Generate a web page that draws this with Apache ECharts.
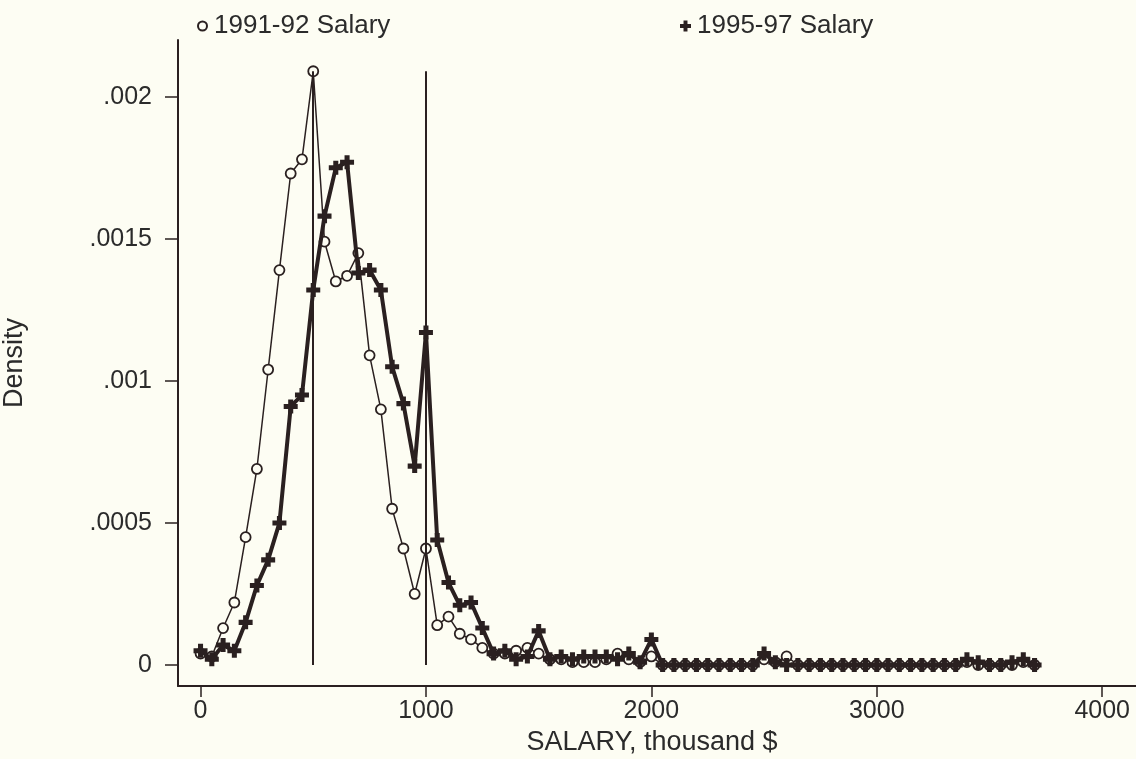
<!DOCTYPE html>
<html>
<head>
<meta charset="utf-8">
<script src="https://cdn.jsdelivr.net/npm/echarts@6/dist/echarts.min.js"></script>
<style>
html,body{margin:0;padding:0;background:#fdfdf3;}
#chart{width:1136px;height:759px;}
</style>
</head>
<body>
<div id="chart"></div>
<script>
// ---- data ----
const salaryBins = [0,50,100,150,200,250,300,350,400,450,500,550,600,650,700,750,800,850,900,950,
  1000,1050,1100,1150,1200,1250,1300,1350,1400,1450,1500,1550,1600,1650,1700,1750,1800,1850,1900,1950,
  2000,2050,2100,2150,2200,2250,2300,2350,2400,2450,2500,2550,2600,2650,2700,2750,2800,2850,2900,2950,
  3000,3050,3100,3150,3200,3250,3300,3350,3400,3450,3500,3550,3600,3650,3700];

const density9192 = [0.00004,0.00003,0.00013,0.00022,0.00045,0.00069,0.00104,0.00139,0.00173,0.00178,
  0.00209,0.00149,0.00135,0.00137,0.00145,0.00109,0.00090,0.00055,0.00041,0.00025,
  0.00041,0.00014,0.00017,0.00011,0.00009,0.00006,0.00004,0.00004,0.00005,0.00006,
  0.00004,0.00002,0.00002,0.00001,0.00001,0.00001,0.00002,0.00004,0.00002,0.00001,
  0.00003,0,0,0,0,0,0,0,0,0,
  0.00002,0.00001,0.00003,0,0,0,0,0,0,0,
  0,0,0,0,0,0,0,0,0.00001,0,
  0,0,0,0.00001,0];

const density9597 = [0.00005,0.00002,0.00007,0.00005,0.00015,0.00028,0.00037,0.00050,0.00091,0.00095,
  0.00132,0.00158,0.00175,0.00177,0.00138,0.00139,0.00132,0.00105,0.00092,0.00070,
  0.00117,0.00044,0.00029,0.00021,0.00022,0.00013,0.00004,0.00005,0.00002,0.00003,
  0.00012,0.00002,0.00003,0.00002,0.00003,0.00003,0.00003,0.00002,0.00004,0.00001,
  0.00009,0,0,0,0,0,0,0,0,0,
  0.00004,0.00001,0,0,0,0,0,0,0,0,
  0,0,0,0,0,0,0,0,0.00002,0.00001,
  0,0,0.00001,0.00002,0];

const seriesNames = ['1991-92 Salary', '1995-97 Salary'];
const xTickValues = [0, 1000, 2000, 3000, 4000];
const xTickLabels = ['0', '1000', '2000', '3000', '4000'];
const yTickValues = [0, 0.0005, 0.001, 0.0015, 0.002];
const yTickLabels = ['0', '.0005', '.001', '.0015', '.002'];
const refLinesX = [500, 1000];
const refLineTop = 0.00209;

// ---- build ----
const ink = '#2a2020';
const textCol = '#2b2b2b';
const bg = '#fdfdf3';
const font = 'Liberation Sans';
const plusPath = 'path://M3.2,0H6.8V3.2H10V6.8H6.8V10H3.2V6.8H0V3.2H3.2Z';

const pairs = (ys) => salaryBins.map((x, i) => [x, ys[i]]);
const lookup = (vals, labels) => (v) => {
  const i = vals.findIndex(t => Math.abs(t - v) < 1e-9);
  return i >= 0 ? labels[i] : '';
};

const chart = echarts.init(document.getElementById('chart'), null, {renderer: 'canvas'});
chart.setOption({
  backgroundColor: bg,
  animation: false,
  textStyle: {fontFamily: font, color: textCol},
  legend: [
    {
      left: 192, top: 8, itemWidth: 9, itemHeight: 9, 
      data: [{name: seriesNames[0], icon: 'circle'}],
      textStyle: {fontFamily: font, fontSize: 26, color: textCol, padding: [0, 0, 0, 2]}
    },
    {
      left: 675, top: 8, itemWidth: 11, itemHeight: 11,
      data: [{name: seriesNames[1], icon: plusPath}],
      textStyle: {fontFamily: font, fontSize: 26, color: textCol, padding: [0, 0, 0, 1]}
    }
  ],
  grid: {left: 178, right: 0, top: 40, bottom: 73, containLabel: false, outerBoundsMode: 'none'},
  xAxis: {
    type: 'value', min: -100, max: 4150,
    name: 'SALARY, thousand $', nameLocation: 'middle', nameGap: 27,
    nameTextStyle: {fontFamily: font, fontSize: 27, color: textCol, padding: [0, 10, 0, 0]},
    axisLine: {show: true, onZero: false, lineStyle: {color: ink, width: 2}},
    axisTick: {show: true, length: 11, customValues: xTickValues, lineStyle: {color: ink, width: 1.5}},
    axisLabel: {customValues: xTickValues, margin: 13, fontFamily: font, fontSize: 25, color: textCol,
      formatter: lookup(xTickValues, xTickLabels)},
    splitLine: {show: false}
  },
  yAxis: {
    type: 'value', min: -0.000074, max: 0.0022,
    name: 'Density', nameLocation: 'middle', nameGap: 150, nameRotate: 90,
    nameTextStyle: {fontFamily: font, fontSize: 27, color: textCol},
    axisLine: {show: true, onZero: false, lineStyle: {color: ink, width: 2}},
    axisTick: {show: true, length: 13, customValues: yTickValues, lineStyle: {color: ink, width: 1.5}},
    axisLabel: {customValues: yTickValues, margin: 26, fontFamily: font, fontSize: 25, color: textCol,
      formatter: lookup(yTickValues, yTickLabels)},
    splitLine: {show: false}
  },
  series: [
    {
      name: seriesNames[0], type: 'line', z: 2,
      data: pairs(density9192),
      symbol: 'circle', symbolSize: 10,
      lineStyle: {color: ink, width: 1.5},
      itemStyle: {color: bg, borderColor: ink, borderWidth: 1.8},
      markLine: {
        silent: true, symbol: 'none', label: {show: false},
        lineStyle: {color: ink, width: 2, type: 'solid'},
        data: refLinesX.map(x => [{coord: [x, 0]}, {coord: [x, refLineTop]}])
      }
    },
    {
      name: seriesNames[1], type: 'line', z: 3,
      data: pairs(density9597),
      symbol: plusPath, symbolSize: 14,
      lineStyle: {color: ink, width: 4},
      itemStyle: {color: ink}
    }
  ]
});
</script>
</body>
</html>
